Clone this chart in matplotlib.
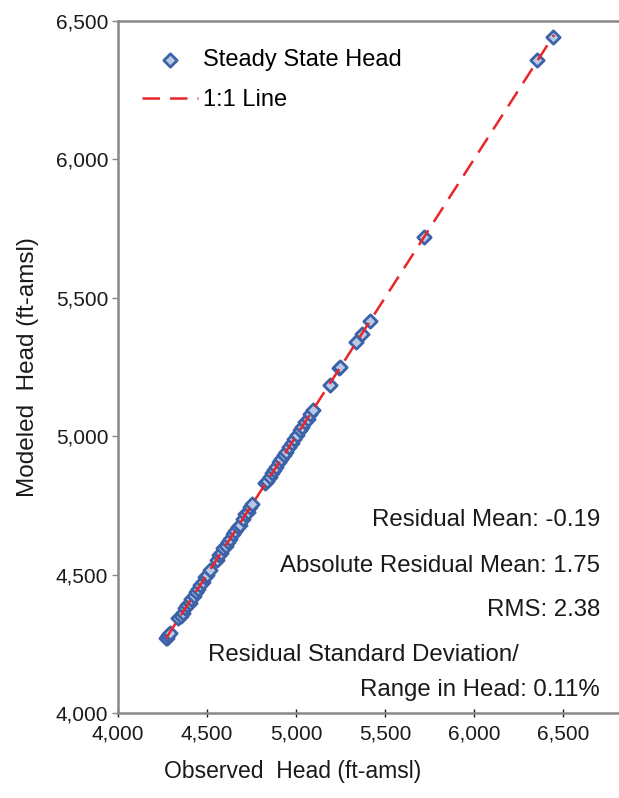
import matplotlib
matplotlib.use('Agg')
import matplotlib.pyplot as plt
from matplotlib.ticker import FuncFormatter

plt.rcParams['font.family'] = ['Liberation Sans', 'DejaVu Sans']

# observed heads (ft-amsl)
observed = [4268, 4275, 4282, 4290,
            4340, 4352, 4365, 4378, 4390, 4402, 4410, 4425, 4438, 4450,
            4462, 4475, 4488, 4500, 4515,
            4555, 4568, 4580, 4592, 4605, 4618, 4630, 4645, 4660, 4672,
            4685, 4700, 4715, 4728, 4742, 4755,
            4828, 4840, 4852, 4865, 4878, 4890, 4905, 4918, 4932, 4945,
            4960, 4975, 4990, 5005, 5020, 5035, 5050, 5065, 5080, 5095,
            5190, 5243, 5250, 5340, 5372, 5415, 5720, 6355, 6446]
# modeled minus observed (ft), small residuals
residual = [1.2, -2.5, 0.8, -1.6,
            3.1, -0.4, -2.2, 1.9, 0.5, -3.8, 2.6, -1.1, 0.3, -2.9,
            1.4, -0.7, 4.2, -1.8, 0.9,
            -2.4, 1.7, -0.2, 2.8, -3.3, 0.6, -1.5, 2.1, -0.9, 1.3,
            -4.6, 0.4, 2.3, -1.9, 0.7, -0.6,
            1.8, -2.7, 0.2, 3.4, -1.3, -0.8, 2.5, -2.1, 1.1, -3.1,
            0.5, 1.6, -1.4, -0.3, 2.9, -2.6, 0.8, -1.7, 1.2, -0.5,
            -3.6, 2.2, -1.0, 0.9, -2.0, 1.5, -0.4, 3.0, -2.3]
modeled = [o + r for o, r in zip(observed, residual)]

one_to_one = [4270, 6450]

stats = ['Residual Mean: -0.19',
         'Absolute Residual Mean: 1.75',
         'RMS: 2.38']
std_line1 = 'Residual Standard Deviation/'
std_line2 = 'Range in Head: 0.11%'

fig = plt.figure(figsize=(6.19, 7.98), dpi=100)
ax = fig.add_axes([0.1906, 0.1065, 0.8094, 0.8672])

ax.scatter(observed, modeled, marker='D', s=46, facecolor='#b9c8e4',
           edgecolor='#3c62a8', linewidths=2.0, zorder=2,
           label='Steady State Head')
ax.plot(one_to_one, one_to_one, color='#e8262a', lw=1.8,
        dashes=(7, 4), zorder=3, label='1:1 Line')

ax.set_xlim(4000, 6815)
ax.set_ylim(4000, 6500)
ax.set_xticks([4000, 4500, 5000, 5500, 6000, 6500])
ax.set_yticks([4000, 4500, 5000, 5500, 6000, 6500])
fmt = FuncFormatter(lambda v, p: f'{int(v):,}')
ax.xaxis.set_major_formatter(fmt)
ax.yaxis.set_major_formatter(fmt)
ax.tick_params(axis='both', labelsize=15, colors='#1a1a1a', length=4,
               width=1, pad=3)
ax.tick_params(axis='x', direction='inout', length=6, pad=5)
ax.tick_params(axis='y', color='#888888')

for side in ['left', 'bottom', 'top']:
    ax.spines[side].set_color('#888888')
    ax.spines[side].set_linewidth(1.8)
ax.spines['right'].set_visible(False)

ax.set_xlabel('Observed  Head (ft-amsl)', fontsize=16.5, color='#1a1a1a')
ax.xaxis.set_label_coords(0.349, -0.068)
ax.set_ylabel('Modeled  Head (ft-amsl)', fontsize=17.5, color='#1a1a1a')
ax.yaxis.set_label_coords(-0.158, 0.5)

leg = ax.legend(loc='upper left', bbox_to_anchor=(0.005, 0.99), frameon=False,
                fontsize=17, handlelength=2.4, handletextpad=0.2,
                labelspacing=0.75, scatterpoints=1)

ys = [520, 566, 610]
for t, y in zip(stats, ys):
    fig.text(600 / 619, 1 - y / 798, t, ha='right', va='center',
             fontsize=17.3, color='#1a1a1a')
fig.text(208 / 619, 1 - 655 / 798, std_line1, ha='left', va='center',
         fontsize=17.3, color='#1a1a1a')
fig.text(600 / 619, 1 - 690 / 798, std_line2, ha='right', va='center',
         fontsize=17.3, color='#1a1a1a')

fig.savefig('out.png', dpi=100)
